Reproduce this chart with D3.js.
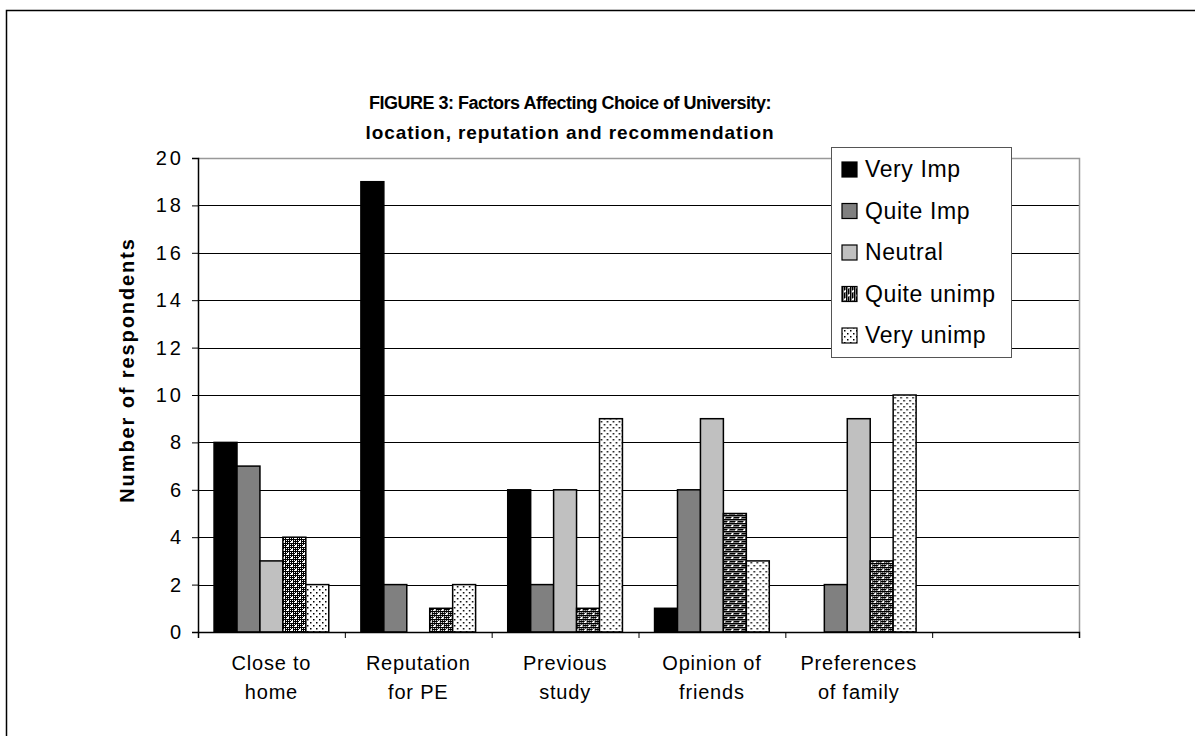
<!DOCTYPE html>
<html>
<head>
<meta charset="utf-8">
<script src="https://d3js.org/d3.v7.min.js"></script>
<title>Figure 3</title>
<style>
body { margin: 0; background: #fff; }
svg { display: block; font-family: "Liberation Sans", Arial, sans-serif; }
</style>
</head>
<body>
<svg id="svg" width="1195" height="736"></svg>
<script>
// chart data
let categories = ["Close to home", "Reputation for PE", "Previous study", "Opinion of friends", "Preferences of family", ""];
let catLines = [["Close to", "home"], ["Reputation", "for PE"], ["Previous", "study"], ["Opinion of", "friends"], ["Preferences", "of family"], []];
let seriesNames = ["Very Imp", "Quite Imp", "Neutral", "Quite unimp", "Very unimp"];
let veryImp = [8, 19, 6, 1, 0, null];
let quiteImp = [7, 2, 2, 6, 2, null];
let neutral = [3, 0, 6, 9, 9, null];
let quiteUnimp = [4, 1, 1, 5, 3, null];
let veryUnimp = [2, 2, 9, 3, 10, null];
let yTicks = [0, 2, 4, 6, 8, 10, 12, 14, 16, 18, 20];
let titleLines = ["FIGURE 3: Factors Affecting Choice of University:", "location, reputation and recommendation"];

let series = [veryImp, quiteImp, neutral, quiteUnimp, veryUnimp];
let fills = ["#000000", "#808080", "#c0c0c0", "url(#checker)", "url(#dots)"];

let svg = d3.select("#svg");
let pLeft = 198, pRight = 1079, pTop = 158, pBottom = 632;

// patterns
let defs = svg.append("defs");
let chk = defs.append("pattern").attr("id", "checker")
  .attr("patternUnits", "userSpaceOnUse").attr("width", 8).attr("height", 8);
chk.append("rect").attr("width", 8).attr("height", 8).attr("fill", "#000");
for (let i = 0; i < 8; i++) {
  for (let j = 0; j < 8; j++) {
    if (i % 2 == 0 && j % 2 == 0) {
      chk.append("rect").attr("x", i).attr("y", j).attr("width", 1).attr("height", 1).attr("fill", "#fff");
    }
  }
}
chk.append("rect").attr("x", 1).attr("y", 1).attr("width", 2).attr("height", 2).attr("fill", "#fff");
chk.append("rect").attr("x", 5).attr("y", 5).attr("width", 2).attr("height", 2).attr("fill", "#fff");

let dots = defs.append("pattern").attr("id", "dots")
  .attr("patternUnits", "userSpaceOnUse").attr("width", 6).attr("height", 6);
dots.append("rect").attr("width", 6).attr("height", 6).attr("fill", "#fff");
dots.append("rect").attr("x", 1).attr("y", 1).attr("width", 1.5).attr("height", 1.5).attr("fill", "#000");
dots.append("rect").attr("x", 4).attr("y", 4).attr("width", 1.5).attr("height", 1.5).attr("fill", "#000");

// outer frame (cut off at right/bottom like the original)
svg.append("rect").attr("x", 6.5).attr("y", 10.5).attr("width", 1200).attr("height", 800)
  .attr("fill", "none").attr("stroke", "#000").attr("stroke-width", 1.5);

// title
let titleSize = [18, 19];
let titleSpacing = [-0.5, 0.9];
svg.selectAll(".title").data(titleLines).enter().append("text")
  .attr("class", "title")
  .attr("x", 570).attr("y", (d, i) => 109 + i * 30)
  .attr("text-anchor", "middle")
  .attr("font-size", (d, i) => titleSize[i]).attr("font-weight", "bold")
  .attr("letter-spacing", (d, i) => titleSpacing[i])
  .text(d => d);

let x0 = d3.scaleBand().domain(categories.map((d, i) => i)).range([pLeft, pRight]).padding(0);
let x1 = d3.scaleBand().domain(seriesNames).range([0, x0.bandwidth()]).paddingOuter(0.7).paddingInner(0);
let y = d3.scaleLinear().domain([0, 20]).range([pBottom, pTop]);

// grid lines
svg.selectAll(".grid").data(yTicks.filter(d => d > 0 && d < 20)).enter().append("line")
  .attr("x1", pLeft).attr("x2", pRight)
  .attr("y1", d => Math.round(y(d)) + 0.5).attr("y2", d => Math.round(y(d)) + 0.5)
  .attr("stroke", "#000").attr("stroke-width", 1);

// plot border top/right in grey
svg.append("path")
  .attr("d", `M${pLeft},${pTop + 0.5}H${pRight + 0.5}V${pBottom}`)
  .attr("fill", "none").attr("stroke", "#999").attr("stroke-width", 1.5);

// bars
let groups = svg.selectAll(".grp").data(categories).enter().append("g")
  .attr("transform", (d, i) => `translate(${x0(i)},0)`);
groups.selectAll("rect").data((d, i) => series.map((s, k) => ({ k: k, v: s[i] })).filter(o => o.v !== null && o.v > 0))
  .enter().append("rect")
  .attr("x", d => x1(seriesNames[d.k]))
  .attr("y", d => y(d.v))
  .attr("width", x1.bandwidth())
  .attr("height", d => y(0) - y(d.v))
  .attr("fill", d => fills[d.k])
  .attr("stroke", "#000").attr("stroke-width", 1.5);

// y axis
let yAxis = d3.axisLeft(y).tickValues(yTicks).tickSize(6).tickPadding(8);
let ya = svg.append("g").attr("transform", `translate(${pLeft},0)`).call(yAxis);
ya.select(".domain").attr("stroke", "#000").attr("stroke-width", 1.5);
ya.selectAll("text").attr("font-size", 20).attr("letter-spacing", 3)
  .attr("font-family", "Liberation Sans, Arial, sans-serif").attr("fill", "#000");

// x axis
let xTick = d3.scaleLinear().domain([0, 6]).range([pLeft, pRight]);
let xAxis = d3.axisBottom(xTick).tickValues([0, 1, 2, 3, 4, 5, 6]).tickSize(6).tickFormat("");
let xa = svg.append("g").attr("transform", `translate(0,${pBottom})`).call(xAxis);
xa.select(".domain").attr("stroke", "#000").attr("stroke-width", 1.5);

// category labels
let lab = svg.selectAll(".cat").data(catLines).enter().append("text")
  .attr("text-anchor", "middle")
  .attr("font-size", 20).attr("letter-spacing", 0.8)
  .attr("x", (d, i) => x0(i) + x0.bandwidth() / 2);
lab.selectAll("tspan").data(d => d).enter().append("tspan")
  .attr("x", function () { return d3.select(this.parentNode).attr("x"); })
  .attr("y", (d, i) => 670 + i * 29)
  .text(d => d);

// y axis title
svg.append("text")
  .attr("transform", "translate(134,370) rotate(-90)")
  .attr("text-anchor", "middle")
  .attr("font-size", 20).attr("font-weight", "bold").attr("letter-spacing", 1.9)
  .text("Number of respondents");

// legend
let lg = svg.append("g").attr("transform", "translate(831,147)");
lg.append("rect").attr("x", 0.5).attr("y", 0.5).attr("width", 180).attr("height", 210)
  .attr("fill", "#fff").attr("stroke", "#555").attr("stroke-width", 1);
let items = lg.selectAll(".li").data(seriesNames).enter().append("g")
  .attr("transform", (d, i) => `translate(0,${22 + i * 41.5})`);
items.append("rect").attr("x", 11).attr("y", -7).attr("width", 15).attr("height", 15)
  .attr("fill", (d, i) => fills[i]).attr("stroke", "#000").attr("stroke-width", 1.2);
items.append("text").attr("x", 34).attr("y", 8).attr("font-size", 23).attr("letter-spacing", 0.6).text(d => d);
</script>
</body>
</html>
